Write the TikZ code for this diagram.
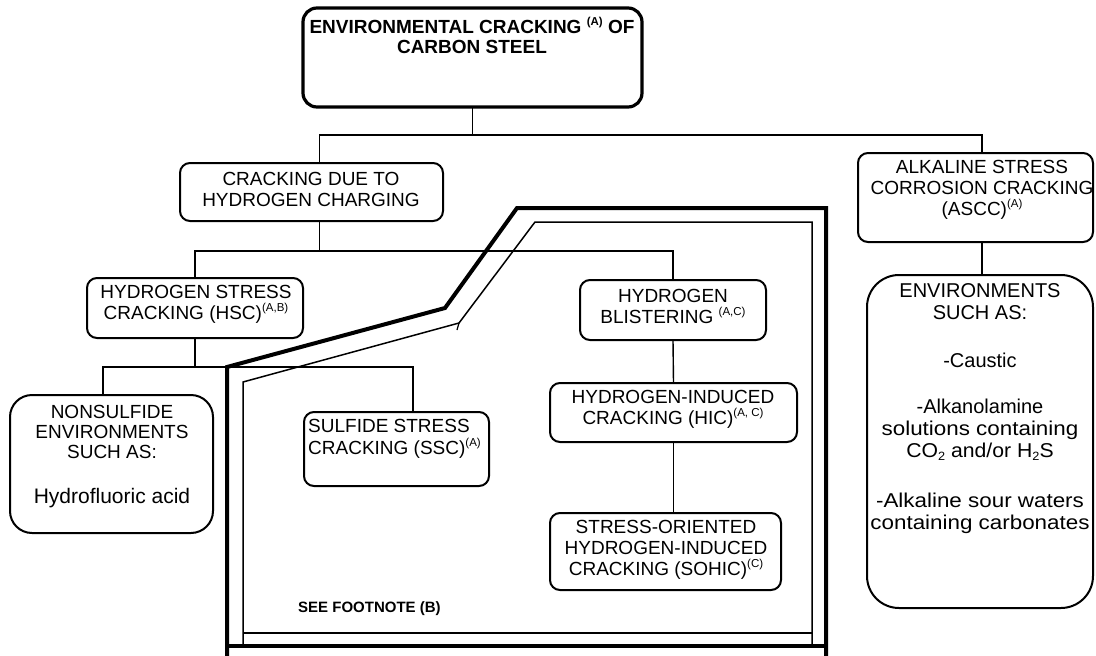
\documentclass[tikz,border=0pt]{standalone}
\usepackage{fontspec}
\setmainfont{Liberation Sans}
\newcommand\mysup[1]{\smash{\raisebox{8pt}{\fontsize{11.5}{11.5}\selectfont #1}}}
\newcommand\mysub[1]{\raisebox{-3.5pt}{\fontsize{12}{12}\selectfont #1}}
\newcommand\mlc[1]{\begin{tabular}[t]{@{}c@{}}#1\end{tabular}}
\newcommand\mll[1]{\begin{tabular}[t]{@{}l@{}}#1\end{tabular}}
\newcommand\wide[1]{\scalebox{1.12}[1]{#1}}
\begin{document}
\begin{tikzpicture}[x=1pt,y=-1pt,
  box/.style={draw, line width=2pt, rounded corners=10pt, inner sep=0pt, outer sep=0pt, anchor=north west},
  txt/.style={inner sep=0pt, anchor=base, font=\fontsize{19}{21}\selectfont},
  conn/.style={line width=1.4pt},
  thickb/.style={line width=4pt, line join=miter},
  thinb/.style={line width=1.5pt, line join=miter}]
\useasboundingbox[fill=white] (0,0) rectangle (1096,656);

% boundary of the footnote region
\draw[thickb] (227,656) -- (227,367) -- (445,308) -- (517,208) -- (826,208) -- (826,656);
\draw[thickb] (227,646) -- (826,646);
\draw[thinb] (243,646) -- (243,382) -- (459,323) -- (535,222) -- (812,222) -- (812,646);
\draw[thinb] (243,633) -- (812,633);
\draw[line width=1.2pt] (459,323) -- (457,330);

% boxes
\node[box, line width=3.2pt, rounded corners=14pt, minimum width=339pt, minimum height=99pt] (top) at (303,8) {};
\node[box, minimum width=263pt, minimum height=58pt] (cdthc) at (180,163) {};
\node[box, minimum width=235pt, minimum height=89pt] (ascc) at (858,153) {};
\node[box, minimum width=216pt, minimum height=60pt] (hsc) at (87,278) {};
\node[box, minimum width=186pt, minimum height=60pt] (hb) at (580,280) {};
\node[box, rounded corners=22pt, minimum width=203pt, minimum height=138pt] (nse) at (10,395) {};
\node[box, minimum width=185pt, minimum height=74pt] (ssc) at (304,412) {};
\node[box, minimum width=247pt, minimum height=59pt] (hic) at (550,383) {};
\node[box, minimum width=231pt, minimum height=77pt] (sohic) at (550,513) {};
\node[box, rounded corners=32pt, minimum width=226pt, minimum height=333pt] (env) at (867,275) {};

% texts
\node[txt, font=\bfseries\fontsize{19}{20}\selectfont] (toptxt) at (472,33)
  {\mlc{ENVIRONMENTAL CRACKING \mysup{(A)} OF\\ CARBON STEEL}};
\node[txt] (cdthctxt) at (311,185) {\mlc{CRACKING DUE TO\\ HYDROGEN CHARGING}};
\node[txt] (asccttxt) at (982,173) {\mlc{ALKALINE STRESS\\ CORROSION CRACKING\\ (ASCC)\mysup{(A)}}};
\node[txt] (hsctxt) at (196,298) {\mlc{HYDROGEN STRESS\\ CRACKING (HSC)\mysup{(A,B)}}};
\node[txt] (hbtxt) at (673,302) {\mlc{HYDROGEN\\ BLISTERING \mysup{(A,C)}}};
\node[txt, font=\fontsize{19}{20}\selectfont] (nsetxt) at (112,418)
  {\mlc{NONSULFIDE\\ ENVIRONMENTS\\ SUCH AS:\\[24pt] {\fontsize{21}{21}\selectfont Hydrofluoric acid}}};
\node[txt, anchor=base west, font=\fontsize{19}{22}\selectfont] (ssctxt) at (308,432)
  {\mll{SULFIDE STRESS\\ CRACKING (SSC)\mysup{(A)}}};
\node[txt] (hictxt) at (673,403) {\mlc{HYDROGEN-INDUCED\\ CRACKING (HIC)\mysup{(A, C)}}};
\node[txt] (sohictxt) at (666,533) {\mlc{STRESS-ORIENTED\\ HYDROGEN-INDUCED\\ CRACKING (SOHIC)\mysup{(C)}}};
\node[txt, font=\fontsize{20}{22}\selectfont] (envtxt) at (980,297)
  {\mlc{ENVIRONMENTS\\ SUCH AS:\\[26pt] -Caustic\\[24pt] -Alkanolamine\\ \wide{solutions containing}\\ \scalebox{1.06}[1]{CO\mysub{2} and/or H\mysub{2}S}\\[28pt] \wide{-Alkaline sour waters}\\ \wide{containing carbonates}}};
\node[txt, anchor=base west, font=\bfseries\fontsize{15}{18}\selectfont] (foot) at (298,612) {SEE FOOTNOTE (B)};

% connectors
\coordinate (j1) at (472.5,135);
\coordinate (j2) at (319.5,251);
\coordinate (j3) at (195,367);
\draw[conn] (top.south) -- (j1);
\draw[conn] ([xshift=8pt]cdthc.north) |- (j1) -| ([xshift=6.5pt]ascc.north);
\draw[conn] ([xshift=8pt]cdthc.south) -- (j2);
\draw[conn] (hsc.north) |- (j2) -| (hb.north);
\draw[conn] (hsc.south) -- (j3);
\draw[conn] ([xshift=-8.5pt]nse.north) |- (j3) -| ([xshift=16.5pt]ssc.north);
\draw[conn] (hb.south) -- (hic.north);
\draw[conn] (hic.south) -- (hic.south |- sohic.north);
\draw[conn] ([xshift=6.5pt]ascc.south) -- ([xshift=6.5pt]ascc.south |- env.north);
\end{tikzpicture}
\end{document}
